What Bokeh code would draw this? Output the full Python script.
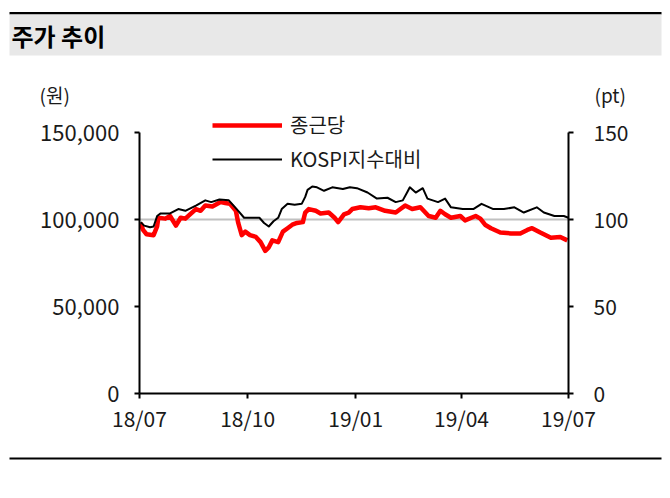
import pandas as pd
from bokeh.plotting import figure
from bokeh.layouts import column
from bokeh.models import (Range1d, LinearAxis, FixedTicker, Span, Label, Legend,
                          LegendItem, BoxAnnotation, NumeralTickFormatter,
                          DatetimeTickFormatter)
from bokeh.embed import file_html
from bokeh.resources import INLINE

title_text = "주가 추이"
left_unit = "(원)"
right_unit = "(pt)"
series_names = ["종근당", "KOSPI지수대비"]

x_start, x_end = "2018-07-01", "2019-07-01"
x_tick_dates = ["2018-07-01", "2018-10-01", "2019-01-01", "2019-04-01", "2019-07-01"]
x_tick_labels = ["18/07", "18/10", "19/01", "19/04", "19/07"]
left_max = 150000
right_max = 150
left_ticks = [0, 50000, 100000, 150000]
right_ticks = [0, 50, 100, 150]
base_level = 100000

red_dates = ["2018-07-02", "2018-07-04", "2018-07-07", "2018-07-13", "2018-07-16", "2018-07-17",
             "2018-07-23", "2018-07-27", "2018-08-01", "2018-08-05", "2018-08-09", "2018-08-13",
             "2018-08-18", "2018-08-22", "2018-08-26", "2018-09-01", "2018-09-08", "2018-09-12",
             "2018-09-16", "2018-09-21", "2018-09-23", "2018-09-26", "2018-09-29", "2018-10-03",
             "2018-10-08", "2018-10-12", "2018-10-16", "2018-10-19", "2018-10-22", "2018-10-27",
             "2018-10-31", "2018-11-04", "2018-11-08", "2018-11-12", "2018-11-17", "2018-11-19",
             "2018-11-22", "2018-11-28", "2018-12-02", "2018-12-09", "2018-12-14", "2018-12-17",
             "2018-12-22", "2018-12-26", "2018-12-29", "2019-01-05", "2019-01-12", "2019-01-18",
             "2019-01-26", "2019-02-04", "2019-02-08", "2019-02-12", "2019-02-18", "2019-02-25",
             "2019-03-04", "2019-03-10", "2019-03-14", "2019-03-18", "2019-03-23", "2019-03-31",
             "2019-04-04", "2019-04-13", "2019-04-17", "2019-04-21", "2019-04-26", "2019-05-04",
             "2019-05-13", "2019-05-21", "2019-05-27", "2019-05-31", "2019-06-07", "2019-06-16",
             "2019-06-24", "2019-06-30"]
red_values = [98000, 94000, 91500, 91000, 96000, 101000,
              100500, 102000, 96500, 101000, 100500, 103000,
              106000, 105000, 108000, 107500, 110000, 109500,
              109000, 105000, 98000, 91000, 93000, 91000,
              90000, 87000, 82000, 84000, 88000, 87000,
              93000, 95000, 97000, 98000, 98500, 104000,
              106000, 105000, 103500, 104000, 101000, 98500,
              103000, 104000, 106000, 107000, 106500, 107000,
              105000, 104000, 106000, 108000, 106000, 107000,
              102000, 101000, 105000, 103000, 101000, 102000,
              99500, 102000, 100500, 97000, 95000, 92500,
              92000, 92000, 94000, 95000, 92500, 89500,
              90000, 88000]

kospi_dates = ["2018-07-02", "2018-07-05", "2018-07-10", "2018-07-13", "2018-07-16", "2018-07-19",
               "2018-07-27", "2018-08-03", "2018-08-09", "2018-08-18", "2018-08-26", "2018-08-31",
               "2018-09-07", "2018-09-15", "2018-09-19", "2018-09-23", "2018-09-28", "2018-10-03",
               "2018-10-11", "2018-10-15", "2018-10-19", "2018-10-23", "2018-10-27", "2018-10-30",
               "2018-11-04", "2018-11-10", "2018-11-16", "2018-11-19", "2018-11-21", "2018-11-25",
               "2018-11-29", "2018-12-05", "2018-12-12", "2018-12-21", "2018-12-27", "2019-01-02",
               "2019-01-11", "2019-01-19", "2019-01-28", "2019-02-04", "2019-02-10", "2019-02-14",
               "2019-02-16", "2019-02-21", "2019-02-27", "2019-03-03", "2019-03-12", "2019-03-18",
               "2019-03-23", "2019-04-02", "2019-04-11", "2019-04-18", "2019-04-28", "2019-05-07",
               "2019-05-16", "2019-05-24", "2019-06-04", "2019-06-10", "2019-06-19", "2019-06-27",
               "2019-07-01"]
kospi_values = [98.5, 96.5, 95.5, 96, 102, 103.5,
                103.5, 106, 105, 108, 111, 110,
                111.5, 111, 108, 105, 101, 101,
                101, 98, 96, 99, 101, 106,
                109, 108.5, 109, 113, 117, 119,
                118.5, 116.5, 118.5, 117.5, 118.5, 118,
                115.5, 112, 112.5, 110, 111, 116,
                118.5, 115.5, 118, 112, 110, 112,
                107, 106, 106, 109, 106, 106,
                107, 104, 107, 104, 102, 102,
                101]

FONT = "Noto Sans CJK KR"
TXT = "#1a1a1a"
W = 662
HEAD_H = 108          # header strip height
AXIS_H = 261          # pixel height of 0..150 on the axes
FRAME_H = 285         # frame extends above the top tick so the legend fits
MAIN_BOTTOM = 47
FOOT_H = 50


def blank_fig(h):
    f = figure(width=W, height=h, x_range=Range1d(0, W), y_range=Range1d(h, 0),
               output_backend="svg", toolbar_location=None,
               x_axis_location=None, y_axis_location=None,
               min_border=0, outline_line_color=None, frame_align=False)
    f.grid.visible = False
    return f


def box(l, r, t, b, color):
    return BoxAnnotation(left=l, right=r, top=t, bottom=b, fill_color=color,
                         fill_alpha=1, line_color=None)


# ---------- header ----------
head = blank_fig(HEAD_H)
head.add_layout(box(9, 661, 11.5, 14, "black"))
head.add_layout(box(9, 661, 14, 55, "#e8e8e8"))
head.add_layout(Label(x=11, y=35, text=title_text, text_font=FONT, text_font_size="24px",
                      text_font_style="bold", text_color="black", text_baseline="middle"))
head.add_layout(Label(x=39, y=93.5, text=left_unit, text_font=FONT, text_font_size="19px",
                      text_color=TXT, text_baseline="middle"))
head.add_layout(Label(x=594, y=93.5, text=right_unit, text_font=FONT, text_font_size="19px",
                      text_color=TXT, text_baseline="middle"))

# ---------- main chart ----------
xs = pd.to_datetime
scale = FRAME_H / AXIS_H
p = figure(width=W, height=FRAME_H + MAIN_BOTTOM, x_axis_type="datetime",
           x_range=Range1d(xs(x_start), xs(x_end)), y_range=Range1d(0, left_max * scale),
           output_backend="svg", toolbar_location=None, frame_align=False,
           min_border_left=139, min_border_right=W - 139 - 429,
           min_border_top=0, min_border_bottom=MAIN_BOTTOM)
p.extra_y_ranges = {"pt": Range1d(0, right_max * scale)}
p.grid.visible = False
p.outline_line_color = None

p.add_layout(Span(location=base_level, dimension="width", line_color="#c0c0c0",
                  line_width=2, level="underlay"))

r_red = p.line(xs(red_dates), red_values, line_color="#ff0000", line_width=4.5,
               line_join="round")
r_blk = p.line(xs(kospi_dates), kospi_values, y_range_name="pt", line_color="black",
               line_width=2, line_join="round")


def style_axis(ax, size="21px"):
    ax.axis_line_color = "black"
    ax.axis_line_width = 2
    ax.major_tick_line_color = "black"
    ax.major_tick_line_width = 2
    ax.major_tick_out = 5
    ax.major_tick_in = 0
    ax.minor_tick_line_color = None
    ax.major_label_text_font = FONT
    ax.major_label_text_font_size = size
    ax.major_label_text_color = TXT


xa = p.xaxis[0]
xa.ticker = FixedTicker(ticks=[xs(d).value / 1e6 for d in x_tick_dates])
xa.formatter = DatetimeTickFormatter(months="%y/%m", days="%y/%m", years="%y/%m",
                                     hours="%y/%m", minutes="%y/%m")
style_axis(xa)
xa.major_label_standoff = 4

ya = p.yaxis[0]
ya.ticker = FixedTicker(ticks=left_ticks)
ya.formatter = NumeralTickFormatter(format="0,0")
ya.bounds = (0, left_max)
style_axis(ya, "22px")
ya.major_label_standoff = 15

ra = LinearAxis(y_range_name="pt", ticker=FixedTicker(ticks=right_ticks),
                bounds=(0, right_max))
style_axis(ra)
ra.major_label_standoff = 20
p.add_layout(ra, "right")

legend = Legend(items=[LegendItem(label=series_names[0], renderers=[r_red]),
                       LegendItem(label=series_names[1], renderers=[r_blk])],
                location=(73, 220), padding=0, margin=0, spacing=5,
                glyph_width=70, glyph_height=26, label_height=26, label_standoff=8,
                border_line_color=None, background_fill_alpha=0,
                label_text_font=FONT, label_text_font_size="20px", label_text_color=TXT)
p.add_layout(legend, "center")

# ---------- footer rule ----------
foot = blank_fig(FOOT_H)
foot.add_layout(box(9, 661, 17, 19, "black"))

layout = column(head, p, foot, spacing=0)
open("out.html", "w").write(file_html(layout, INLINE))
